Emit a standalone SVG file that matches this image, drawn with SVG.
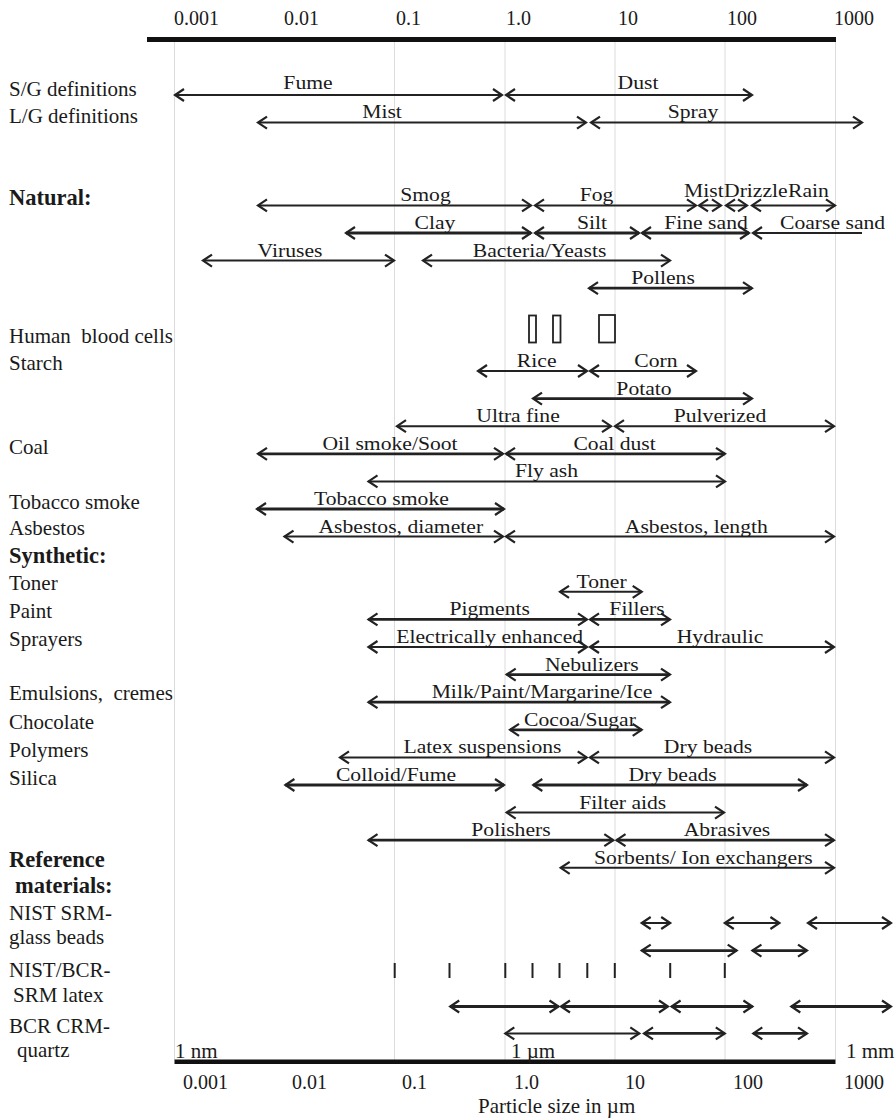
<svg xmlns="http://www.w3.org/2000/svg" width="895" height="1120" viewBox="0 0 895 1120">
<defs>
<marker id="ah" viewBox="-12 -8 14 16" refX="0" refY="0" markerWidth="14" markerHeight="16" markerUnits="userSpaceOnUse" orient="auto-start-reverse" overflow="visible">
<path d="M-9,-6 L0,0 L-9,6" fill="none" stroke="#222" stroke-width="2.2"/>
</marker>
</defs>
<style>
text{font-family:"Liberation Serif","Times New Roman",serif;fill:#1a1a1a}
.grid line{stroke:#dcdcdc;stroke-width:1}
.bar{fill:#111}
.n{font-size:20px}
.l{font-size:21px}
.b{font-size:22.5px;font-weight:bold}
.al{font-size:19.5px;text-anchor:middle}
.as{font-size:19.5px;text-anchor:start}
.a{stroke:#222;stroke-width:2;fill:none;marker-start:url(#ah);marker-end:url(#ah)}
.t{stroke-width:2.8}
.s{stroke:#222;stroke-width:2.2;fill:none;marker-start:url(#ah)}
.tick{stroke:#222;stroke-width:2}
.cell{fill:none;stroke:#222;stroke-width:1.8}
</style>
<rect width="895" height="1120" fill="#fff"/>

<g id="gridlines" class="grid">
<line x1="174.5" y1="42" x2="174.5" y2="1060"/>
<line x1="394.5" y1="42" x2="394.5" y2="1060"/>
<line x1="505" y1="42" x2="505" y2="1060"/>
<line x1="615" y1="42" x2="615" y2="1060"/>
<line x1="725" y1="42" x2="725" y2="1060"/>
<line x1="835.5" y1="42" x2="835.5" y2="1060"/>
</g>

<g id="top-axis">
<rect class="bar" x="147" y="37" width="689" height="5"/>
<text class="n" x="174" y="25">0.001</text>
<text class="n" x="284" y="25">0.01</text>
<text class="n" x="396" y="25">0.1</text>
<text class="n" x="506" y="25">1.0</text>
<text class="n" x="618" y="25">10</text>
<text class="n" x="727" y="25">100</text>
<text class="n" x="834" y="25">1000</text>
</g>

<g id="bottom-axis">
<rect class="bar" x="174.5" y="1059.5" width="661" height="4.5"/>
<text class="l" x="175" y="1058">1 nm</text>
<text class="l" x="511" y="1058">1 µm</text>
<text class="l" x="846" y="1058">1 mm</text>
<text class="n" x="183" y="1089">0.001</text>
<text class="n" x="292" y="1089">0.01</text>
<text class="n" x="402" y="1089">0.1</text>
<text class="n" x="514" y="1089">1.0</text>
<text class="n" x="625" y="1089">10</text>
<text class="n" x="733" y="1089">100</text>
<text class="n" x="844" y="1089">1000</text>
<text class="l" x="478" y="1113">Particle size in µm</text>
</g>

<g id="row-labels">
<text class="l" x="9" y="96">S/G definitions</text>
<text class="l" x="9" y="122.5">L/G definitions</text>
<text class="b" x="9" y="205">Natural:</text>
<text class="l" x="9" y="343">Human&#160; blood cells</text>
<text class="l" x="9" y="370">Starch</text>
<text class="l" x="9" y="453.5">Coal</text>
<text class="l" x="9" y="508.5">Tobacco smoke</text>
<text class="l" x="9" y="535">Asbestos</text>
<text class="b" x="9" y="563">Synthetic:</text>
<text class="l" x="9" y="590">Toner</text>
<text class="l" x="9" y="618">Paint</text>
<text class="l" x="9" y="646">Sprayers</text>
<text class="l" x="9" y="700">Emulsions,&#160; cremes</text>
<text class="l" x="9" y="728.5">Chocolate</text>
<text class="l" x="9" y="756.5">Polymers</text>
<text class="l" x="9" y="785">Silica</text>
<text class="b" x="9" y="866.5">Reference</text>
<text class="b" x="15" y="893">materials:</text>
<text class="l" x="9" y="920">NIST SRM-</text>
<text class="l" x="9" y="944">glass beads</text>
<text class="l" x="9" y="976.5">NIST/BCR-</text>
<text class="l" x="13" y="1001.5">SRM latex</text>
<text class="l" x="9" y="1033">BCR CRM-</text>
<text class="l" x="17" y="1056.5">quartz</text>
</g>

<g id="blood-cells">
<rect class="cell" x="529" y="315.5" width="7" height="27"/>
<rect class="cell" x="553" y="315.5" width="7.5" height="27"/>
<rect class="cell" x="599" y="315" width="16" height="27.5"/>
</g>

<g id="connectors">
<g id="sg">
<line class="a" x1="175" y1="95" x2="502" y2="95"/>
<line class="a" x1="506" y1="95" x2="752" y2="95"/>
</g>
<g id="lg">
<line class="a" x1="258" y1="122.6" x2="586" y2="122.6"/>
<line class="a" x1="591" y1="122.6" x2="862" y2="122.6"/>
</g>
<g id="natural">
<line class="a" x1="258" y1="205.4" x2="531" y2="205.4"/>
<line class="a" x1="535" y1="205.4" x2="696" y2="205.4"/>
<line class="a" x1="699" y1="205.4" x2="721" y2="205.4"/>
<line class="a" x1="726" y1="205.4" x2="747" y2="205.4"/>
<line class="a" x1="752" y1="205.4" x2="835" y2="205.4"/>
<line class="a t" x1="346" y1="233" x2="531" y2="233"/>
<line class="a t" x1="535" y1="233" x2="639" y2="233"/>
<line class="a t" x1="642" y1="233" x2="749" y2="233"/>
<line class="s t" x1="753" y1="233" x2="862" y2="233"/>
<line class="a" x1="203" y1="260.6" x2="394" y2="260.6"/>
<line class="a" x1="423" y1="260.6" x2="670" y2="260.6"/>
<line class="a t" x1="589" y1="288.2" x2="752" y2="288.2"/>
</g>
<g id="starch-coal">
<line class="a" x1="478" y1="371" x2="587" y2="371"/>
<line class="a" x1="590" y1="371" x2="696" y2="371"/>
<line class="a t" x1="533" y1="398.6" x2="752" y2="398.6"/>
<line class="a" x1="397" y1="426.2" x2="611" y2="426.2"/>
<line class="a" x1="615" y1="426.2" x2="834" y2="426.2"/>
<line class="a t" x1="258" y1="453.8" x2="503" y2="453.8"/>
<line class="a t" x1="506" y1="453.8" x2="725" y2="453.8"/>
<line class="a" x1="368.5" y1="481.4" x2="725" y2="481.4"/>
<line class="a t" x1="257" y1="509" x2="504" y2="509"/>
<line class="a" x1="284.5" y1="536.6" x2="503" y2="536.6"/>
<line class="a" x1="506" y1="536.6" x2="834" y2="536.6"/>
</g>
<g id="synthetic">
<line class="a" x1="560" y1="591.8" x2="641.7" y2="591.8"/>
<line class="a t" x1="368.5" y1="619.4" x2="587" y2="619.4"/>
<line class="a t" x1="590" y1="619.4" x2="670" y2="619.4"/>
<line class="a" x1="368.5" y1="647" x2="587" y2="647"/>
<line class="a" x1="590" y1="647" x2="834" y2="647"/>
<line class="a t" x1="506.7" y1="674.6" x2="670" y2="674.6"/>
<line class="a t" x1="368.5" y1="702.2" x2="670" y2="702.2"/>
<line class="a t" x1="510" y1="729.8" x2="641.7" y2="729.8"/>
<line class="a" x1="340" y1="757.4" x2="586.7" y2="757.4"/>
<line class="a" x1="590" y1="757.4" x2="834" y2="757.4"/>
<line class="a t" x1="285.4" y1="785" x2="504" y2="785"/>
<line class="a t" x1="533.3" y1="785" x2="807" y2="785"/>
<line class="a" x1="506.7" y1="812.6" x2="724" y2="812.6"/>
<line class="a t" x1="368.5" y1="840.2" x2="613.3" y2="840.2"/>
<line class="a t" x1="616.5" y1="840.2" x2="834" y2="840.2"/>
<line class="a" x1="560.7" y1="867.8" x2="834" y2="867.8"/>
</g>
<g id="reference-materials">
<line class="a" x1="641.7" y1="923" x2="670.2" y2="923"/>
<line class="a" x1="724.8" y1="923" x2="779.4" y2="923"/>
<line class="a" x1="808" y1="923" x2="891" y2="923"/>
<line class="a t" x1="641.7" y1="950.6" x2="736.7" y2="950.6"/>
<line class="a t" x1="752.4" y1="950.6" x2="807" y2="950.6"/>
<line class="tick" x1="394.7" y1="963" x2="394.7" y2="978"/>
<line class="tick" x1="449.5" y1="963" x2="449.5" y2="978"/>
<line class="tick" x1="505.3" y1="963" x2="505.3" y2="978"/>
<line class="tick" x1="532.5" y1="963" x2="532.5" y2="978"/>
<line class="tick" x1="559.5" y1="963" x2="559.5" y2="978"/>
<line class="tick" x1="587.3" y1="963" x2="587.3" y2="978"/>
<line class="tick" x1="614.8" y1="963" x2="614.8" y2="978"/>
<line class="tick" x1="670.2" y1="963" x2="670.2" y2="978"/>
<line class="tick" x1="724.8" y1="963" x2="724.8" y2="978"/>
<line class="a t" x1="450.2" y1="1006.5" x2="558.5" y2="1006.5"/>
<line class="a t" x1="561" y1="1006.5" x2="668" y2="1006.5"/>
<line class="a t" x1="671.6" y1="1006.5" x2="752.4" y2="1006.5"/>
<line class="a t" x1="791.3" y1="1006.5" x2="891" y2="1006.5"/>
<line class="a" x1="505.3" y1="1033.4" x2="639.3" y2="1033.4"/>
<line class="a t" x1="644" y1="1033.4" x2="724.8" y2="1033.4"/>
<line class="a t" x1="753.3" y1="1033.4" x2="807" y2="1033.4"/>
</g>
</g>

<g id="range-labels">
<text class="al" transform="translate(308,89) scale(1.11,1)">Fume</text>
<text class="al" transform="translate(638,89) scale(1.11,1)">Dust</text>
<text class="al" transform="translate(382,118) scale(1.11,1)">Mist</text>
<text class="al" transform="translate(693,118) scale(1.11,1)">Spray</text>
<text class="al" transform="translate(425.5,201) scale(1.11,1)">Smog</text>
<text class="al" transform="translate(596.5,201) scale(1.11,1)">Fog</text>
<text class="as" transform="translate(684,197) scale(1.11,1)">Mist</text>
<text class="as" transform="translate(724,197) scale(1.11,1)">Drizzle</text>
<text class="as" transform="translate(788,197) scale(1.11,1)">Rain</text>
<text class="al" transform="translate(435,229) scale(1.11,1)">Clay</text>
<text class="al" transform="translate(592,229) scale(1.11,1)">Silt</text>
<text class="al" transform="translate(706,229) scale(1.11,1)">Fine sand</text>
<text class="al" transform="translate(832.6,229) scale(1.11,1)">Coarse sand</text>
<text class="al" transform="translate(290,256.6) scale(1.11,1)">Viruses</text>
<text class="al" transform="translate(539.5,256.6) scale(1.11,1)">Bacteria/Yeasts</text>
<text class="al" transform="translate(663,284.2) scale(1.11,1)">Pollens</text>
<text class="al" transform="translate(536.7,367) scale(1.11,1)">Rice</text>
<text class="al" transform="translate(656,367) scale(1.11,1)">Corn</text>
<text class="al" transform="translate(644,394.6) scale(1.11,1)">Potato</text>
<text class="al" transform="translate(518,422.2) scale(1.11,1)">Ultra fine</text>
<text class="al" transform="translate(720,422.2) scale(1.11,1)">Pulverized</text>
<text class="al" transform="translate(390,449.8) scale(1.11,1)">Oil smoke/Soot</text>
<text class="al" transform="translate(614.6,449.8) scale(1.11,1)">Coal dust</text>
<text class="al" transform="translate(546.5,477.4) scale(1.11,1)">Fly ash</text>
<text class="al" transform="translate(381.4,505) scale(1.11,1)">Tobacco smoke</text>
<text class="al" transform="translate(400.8,532.6) scale(1.11,1)">Asbestos, diameter</text>
<text class="al" transform="translate(696.3,532.6) scale(1.11,1)">Asbestos, length</text>
<text class="al" transform="translate(601.5,587.8) scale(1.11,1)">Toner</text>
<text class="al" transform="translate(489.7,615.4) scale(1.11,1)">Pigments</text>
<text class="al" transform="translate(637,615.4) scale(1.11,1)">Fillers</text>
<text class="al" transform="translate(489.7,643) scale(1.11,1)">Electrically enhanced</text>
<text class="al" transform="translate(720,643) scale(1.11,1)">Hydraulic</text>
<text class="al" transform="translate(591.8,670.6) scale(1.11,1)">Nebulizers</text>
<text class="al" transform="translate(542,698.2) scale(1.11,1)">Milk/Paint/Margarine/Ice</text>
<text class="al" transform="translate(580,725.8) scale(1.11,1)">Cocoa/Sugar</text>
<text class="al" transform="translate(482.5,753.4) scale(1.11,1)">Latex suspensions</text>
<text class="al" transform="translate(708,753.4) scale(1.11,1)">Dry beads</text>
<text class="al" transform="translate(396,781) scale(1.11,1)">Colloid/Fume</text>
<text class="al" transform="translate(672.6,781) scale(1.11,1)">Dry beads</text>
<text class="al" transform="translate(622.7,808.6) scale(1.11,1)">Filter aids</text>
<text class="al" transform="translate(511,836.2) scale(1.11,1)">Polishers</text>
<text class="al" transform="translate(727,836.2) scale(1.11,1)">Abrasives</text>
<text class="al" transform="translate(703.4,863.8) scale(1.11,1)">Sorbents/ Ion exchangers</text>
</g>
</svg>
